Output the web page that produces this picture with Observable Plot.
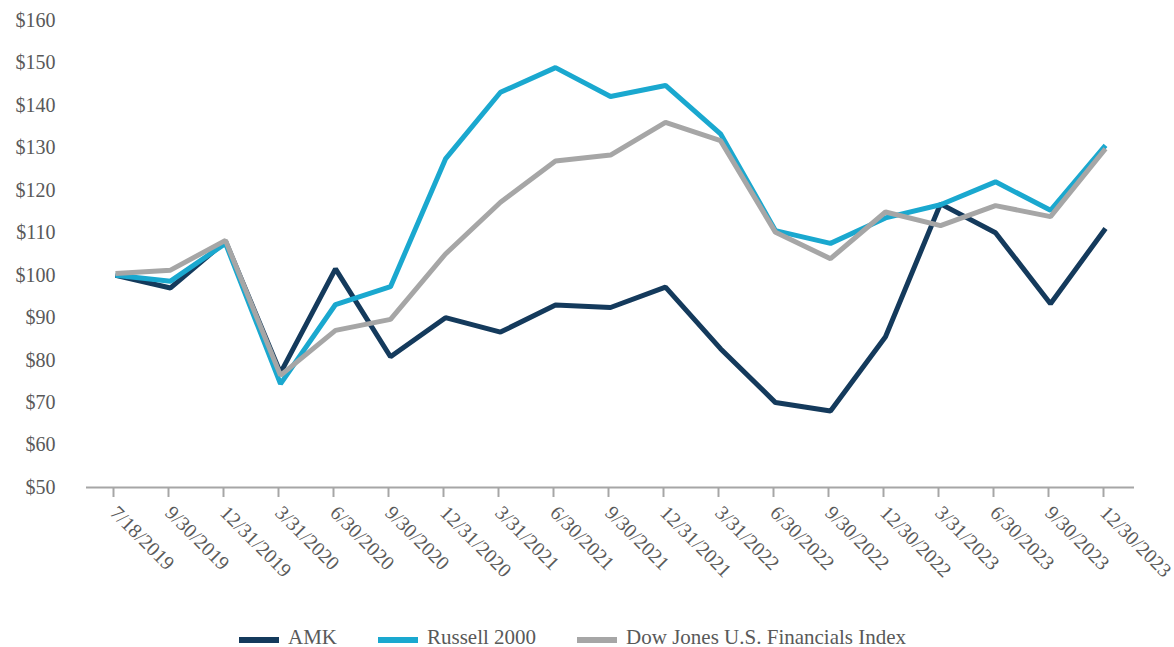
<!DOCTYPE html>
<html>
<head>
<meta charset="utf-8">
<script src="https://cdn.jsdelivr.net/npm/d3@7"></script>
<script src="https://cdn.jsdelivr.net/npm/@observablehq/plot@0.6"></script>
</head>
<body style="margin:0;padding:0;background:#fff;width:1174px;height:647px;overflow:hidden;font-family:'Liberation Serif',serif;">
<div id="chart"></div>
<div id="legend" style="height:25px;line-height:25px;padding-top:3px;font-size:21px;color:#595959;padding-left:239px;display:flex;align-items:baseline;white-space:nowrap;font-family:'Liberation Serif',serif;"></div>
<script>
const dates = ["7/18/2019","9/30/2019","12/31/2019","3/31/2020","6/30/2020","9/30/2020","12/31/2020","3/31/2021","6/30/2021","9/30/2021","12/31/2021","3/31/2022","6/30/2022","9/30/2022","12/30/2022","3/31/2023","6/30/2023","9/30/2023","12/30/2023"];
const amk      = [100, 97.0, 108.0, 77.0, 101.5, 80.8, 90.0, 86.6, 93.0, 92.4, 97.2, 82.7, 70.0, 68.0, 85.5, 116.8, 110.0, 93.3, 111.0];
const russell  = [100, 98.6, 107.5, 74.4, 93.1, 97.3, 127.4, 143.1, 148.9, 142.1, 144.7, 133.3, 110.5, 107.5, 113.5, 116.6, 122.0, 115.3, 130.6];
const dowJones = [100.4, 101.2, 108.2, 76.4, 87.0, 89.6, 105.0, 117.2, 126.9, 128.3, 136.0, 131.7, 110.1, 103.9, 114.9, 111.7, 116.4, 113.8, 129.8];
const seriesNames  = ["AMK", "Russell 2000", "Dow Jones U.S. Financials Index"];
const seriesColors = ["#143a5c", "#1aa8cf", "#a6a6a6"];
const yTicks = [50, 60, 70, 80, 90, 100, 110, 120, 130, 140, 150, 160];

const seriesValues = [amk, russell, dowJones];
const rows = [];
seriesNames.forEach((name, s) => {
  dates.forEach((d, i) => rows.push({series: name, date: d, value: seriesValues[s][i]}));
});

const FONT = "'Liberation Serif', serif";
const chart = Plot.plot({
  width: 1174,
  height: 622,
  marginLeft: 86,
  marginRight: 40,
  marginTop: 20,
  marginBottom: 135,
  style: "font-family: 'Liberation Serif', serif; background: #fff; overflow: visible;",
  x: { type: "point", domain: dates, padding: 0.5 },
  y: { domain: [50, 160] },
  color: { domain: seriesNames, range: seriesColors },
  marks: [
    Plot.ruleY([50], { stroke: "#a6a6a6", strokeWidth: 2 }),
    Plot.axisX({
      tickSize: 10, tickRotate: 45, tickPadding: 12, fontSize: 20, fontFamily: FONT,
      stroke: "#a6a6a6", strokeWidth: 2, strokeOpacity: 1,
      fill: "#595959", label: null, dx: -2
    }),
    Plot.axisY({
      ticks: yTicks, tickSize: 0, tickPadding: 31, fontSize: 20, fontFamily: FONT,
      tickFormat: d => "$" + d, fill: "#595959", label: null
    }),
    Plot.line(rows, {
      x: "date", y: "value", z: "series", stroke: "series",
      strokeWidth: 5, strokeLinejoin: "miter", strokeLinecap: "butt"
    })
  ]
});
document.getElementById("chart").appendChild(chart);

const legend = document.getElementById("legend");
seriesNames.forEach((name, i) => {
  const item = document.createElement("div");
  item.style.cssText = "display:flex;align-items:baseline;margin-right:41px;";
  const sw = document.createElement("span");
  sw.style.cssText = "display:inline-block;width:40px;height:6px;margin-right:9px;position:relative;top:-1px;background:" + seriesColors[i] + ";";
  const t = document.createElement("span");
  t.textContent = name;
  item.appendChild(sw);
  item.appendChild(t);
  legend.appendChild(item);
});
</script>
</body>
</html>
